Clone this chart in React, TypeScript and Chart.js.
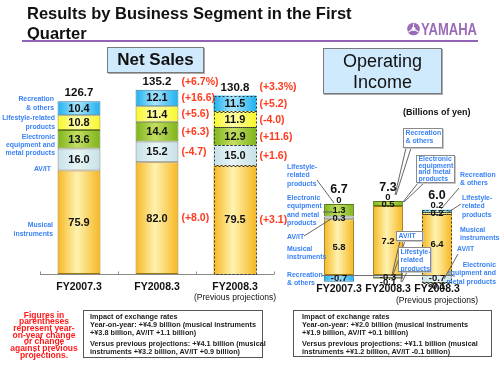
import React, { useEffect, useRef } from 'react';
import { Chart, registerables } from 'chart.js';

Chart.register(...registerables);

const FONT = "'Liberation Sans', Arial, Helvetica, sans-serif";

// ---------- data ----------
const categories = ['FY2007.3', 'FY2008.3', 'FY2008.3'];
const subLabels = ['', '', '(Previous projections)'];
const segmentNames = [
  'Musical instruments',
  'AV/IT',
  'Electronic equipment and metal products',
  'Lifestyle-related products',
  'Recreation & others',
];

// Net sales (billions of yen)
const nsMusical = [75.9, 82.0, 79.5];
const nsAvIt = [16.0, 15.2, 15.0];
const nsElectronic = [13.6, 14.4, 12.9];
const nsLifestyle = [10.8, 11.4, 11.9];
const nsRecreation = [10.4, 12.1, 11.5];
const nsTotals = [126.7, 135.2, 130.8];
const nsTotalChange = ['', '(+6.7%)', '(+3.3%)'];
const nsChangeMusical = ['', '(+8.0)', '(+3.1)'];
const nsChangeAvIt = ['', '(-4.7)', '(+1.6)'];
const nsChangeElectronic = ['', '(+6.3)', '(+11.6)'];
const nsChangeLifestyle = ['', '(+5.6)', '(-4.0)'];
const nsChangeRecreation = ['', '(+16.6)', '(+5.2)'];

// Operating income (billions of yen)
const oiMusical = [5.8, 7.2, 6.4];
const oiAvIt = [0.3, -0.3, -0.7];
const oiElectronic = [1.3, 0.5, -0.1];
const oiLifestyle = [0, -0.1, 0.2];
const oiRecreation = [-0.7, 0, 0.2];
const oiTotals = [6.7, 7.3, 6.0];

const PROJ = 2; // index of the "previous projections" column

// ---------- styles ----------
const SEG_STYLE = [
  { edge: '#f6b721', mid: '#fff2b0', border: '#9a7812' },
  { edge: '#c6e1e7', mid: '#e8f5f7', border: '#7a7a7a' },
  { edge: '#7db41a', mid: '#c4de62', border: '#5a7a1a' },
  { edge: '#f7f728', mid: '#ffffaa', border: '#8a8a30' },
  { edge: '#1cb0ef', mid: '#a8e4ff', border: '#3a7aa0' },
];
const BLUE = '#3a82f6';
const RED = '#ff3b1f';

function gradientFill(edge: string, mid: string, catPct: number) {
  return (c: any) => {
    const chart = c.chart;
    const xs = chart.scales && chart.scales.x;
    if (c.type !== 'data' || !xs || !chart.chartArea) return edge;
    const n = chart.data.labels.length;
    const cw = (xs.right - xs.left) / n;
    const w = cw * catPct;
    const cx = xs.getPixelForValue(c.dataIndex);
    if (!isFinite(cx)) return edge;
    const g = chart.ctx.createLinearGradient(cx - w / 2, 0, cx + w / 2, 0);
    g.addColorStop(0, edge);
    g.addColorStop(0.45, mid);
    g.addColorStop(1, edge);
    return g;
  };
}

function buildDatasets(series: number[][], catPct: number) {
  return series.map((data, k) => ({
    label: segmentNames[k],
    data,
    backgroundColor: gradientFill(SEG_STYLE[k].edge, SEG_STYLE[k].mid, catPct),
    borderColor: SEG_STYLE[k].border,
    borderWidth: (c: any) => (c.dataIndex === PROJ ? 0 : 1),
    borderSkipped: false as const,
    categoryPercentage: catPct,
    barPercentage: 1,
    inflateAmount: 0,
  }));
}

function geo(chart: any, di: number, i: number) {
  const e: any = chart.getDatasetMeta(di).data[i];
  return e.getProps(['x', 'y', 'base', 'width'], true);
}

function drawDotted(chart: any) {
  const ctx = chart.ctx;
  ctx.save();
  ctx.strokeStyle = '#333';
  ctx.lineWidth = 1;
  ctx.setLineDash([2, 2]);
  chart.data.datasets.forEach((d: any, di: number) => {
    const g = geo(chart, di, PROJ);
    const h = Math.abs(g.base - g.y);
    if (h < 0.5) return;
    const x = Math.round(g.x - g.width / 2) + 0.5;
    const y = Math.round(Math.min(g.y, g.base)) + 0.5;
    ctx.strokeRect(x, y, Math.round(g.width) - 1, Math.round(h));
  });
  ctx.restore();
}

function drawCategoryLabels(chart: any, dy: number, subDy: number, font: number, subFont: number) {
  const ctx = chart.ctx;
  const y0 = chart.scales.y.getPixelForValue(0);
  ctx.save();
  ctx.fillStyle = '#111';
  ctx.textAlign = 'center';
  ctx.textBaseline = 'middle';
  categories.forEach((lab, i) => {
    const x = chart.scales.x.getPixelForValue(i);
    ctx.font = `bold ${font}px ${FONT}`;
    ctx.fillText(lab, x, y0 + dy);
    if (subLabels[i]) {
      ctx.font = `${subFont}px ${FONT}`;
      ctx.fillText(subLabels[i], x, y0 + subDy);
    }
  });
  ctx.restore();
}

const nsChanges = [nsChangeMusical, nsChangeAvIt, nsChangeElectronic, nsChangeLifestyle, nsChangeRecreation];

const nsPlugin = {
  id: 'nsDecor',
  beforeDatasetsDraw(chart: any) {
    const { ctx, chartArea: ca } = chart;
    const y0 = Math.round(chart.scales.y.getPixelForValue(0)) + 0.5;
    ctx.save();
    ctx.strokeStyle = '#8a8a8a';
    ctx.lineWidth = 1;
    ctx.beginPath();
    ctx.moveTo(ca.left, y0);
    ctx.lineTo(ca.right, y0);
    const n = chart.data.labels.length;
    const cw = (ca.right - ca.left) / n;
    for (let i = 0; i <= n; i++) {
      const tx = Math.round(ca.left + i * cw) + 0.5;
      ctx.moveTo(tx, y0 - 3);
      ctx.lineTo(tx, y0);
    }
    ctx.stroke();
    ctx.restore();
  },
  afterDatasetsDraw(chart: any) {
    drawDotted(chart);
    const ctx = chart.ctx;
    const ds = chart.data.datasets;
    ctx.save();
    ctx.textBaseline = 'middle';
    // segment values
    ctx.fillStyle = '#111';
    ctx.textAlign = 'center';
    ctx.font = `bold 11px ${FONT}`;
    ds.forEach((d: any, di: number) => {
      (d.data as number[]).forEach((v, i) => {
        const g = geo(chart, di, i);
        ctx.fillText(v.toFixed(1), g.x, (g.y + g.base) / 2 + 0.5);
      });
    });
    // totals
    ctx.font = `bold 11.5px ${FONT}`;
    const tops: number[] = [];
    categories.forEach((_, i) => {
      let top = Infinity;
      ds.forEach((d: any, di: number) => { top = Math.min(top, geo(chart, di, i).y); });
      tops.push(top);
      ctx.fillText(nsTotals[i].toFixed(1), chart.scales.x.getPixelForValue(i), top - 8);
    });
    // changes
    ctx.fillStyle = RED;
    ctx.textAlign = 'left';
    ctx.font = `bold 10.5px ${FONT}`;
    categories.forEach((_, i) => {
      ds.forEach((d: any, di: number) => {
        const txt = nsChanges[di][i];
        if (!txt) return;
        const g = geo(chart, di, i);
        ctx.fillText(txt, g.x + g.width / 2 + 3, (g.y + g.base) / 2 + 0.5);
      });
      if (nsTotalChange[i]) {
        const g = geo(chart, 0, i);
        ctx.fillText(nsTotalChange[i], g.x + g.width / 2 + 3, tops[i] - 8);
      }
    });
    ctx.restore();
    drawCategoryLabels(chart, 13, 23.5, 10.5, 8.5);
  },
};

const oiPlugin = {
  id: 'oiDecor',
  afterDatasetsDraw(chart: any) {
    drawDotted(chart);
    const ctx = chart.ctx;
    const ds = chart.data.datasets;
    const y0 = Math.round(chart.scales.y.getPixelForValue(0)) + 0.5;
    // zero line (also leader for "Recreation & others")
    ctx.save();
    ctx.strokeStyle = '#707070';
    ctx.lineWidth = 1;
    ctx.beginPath();
    ctx.moveTo(322, y0);
    ctx.lineTo(chart.chartArea.right - 8, y0);
    ctx.stroke();
    ctx.textBaseline = 'middle';
    ctx.textAlign = 'center';
    ctx.fillStyle = '#111';
    ctx.font = `bold 9.5px ${FONT}`;
    categories.forEach((_, i) => {
      // topmost non-negative segment
      let topDi = -1;
      let topY = Infinity;
      let lowDi = -1;
      let lowY = -Infinity;
      ds.forEach((d: any, di: number) => {
        const v = d.data[i];
        const g = geo(chart, di, i);
        if (v >= 0 && g.y <= topY) { topY = g.y; topDi = di; }
        if (v < 0 && g.y >= lowY) { lowY = g.y; lowDi = di; }
      });
      let labelTop = topY;
      ds.forEach((d: any, di: number) => {
        const v = d.data[i];
        const g = geo(chart, di, i);
        let y = (g.y + g.base) / 2 + 0.5;
        if (di === topDi && Math.abs(v) <= 0.25) { y = g.y - 4; labelTop = y; }
        if (di === lowDi && Math.abs(v) <= 0.15) y = g.y + 4;
        ctx.fillText(v === 0 ? '0' : v.toFixed(1), g.x, y);
      });
      ctx.font = `bold 12.5px ${FONT}`;
      ctx.fillText(oiTotals[i].toFixed(1), chart.scales.x.getPixelForValue(i), labelTop - 10);
      ctx.font = `bold 9.5px ${FONT}`;
    });
    ctx.restore();
    drawCategoryLabels(chart, 14, 26, 10.5, 8.5);
  },
};

function nsConfig(): any {
  const catPct = 0.55;
  return {
    type: 'bar',
    data: {
      labels: categories,
      datasets: buildDatasets([nsMusical, nsAvIt, nsElectronic, nsLifestyle, nsRecreation], catPct),
    },
    options: {
      animation: false,
      responsive: false,
      events: [],
      layout: { padding: { left: 40, right: 226, top: 83, bottom: 101 } },
      plugins: { legend: { display: false }, tooltip: { enabled: false } },
      scales: {
        x: { display: false, stacked: true },
        y: { display: false, stacked: true, min: 0, max: 140 },
      },
    },
    plugins: [nsPlugin],
  };
}

function oiConfig(): any {
  const catPct = 0.61;
  return {
    type: 'bar',
    data: {
      labels: categories,
      datasets: buildDatasets([oiMusical, oiAvIt, oiElectronic, oiLifestyle, oiRecreation], catPct),
    },
    options: {
      animation: false,
      responsive: false,
      events: [],
      layout: { padding: { left: 314.5, right: 38.5, top: 193.4, bottom: 85.6 } },
      plugins: { legend: { display: false }, tooltip: { enabled: false } },
      scales: {
        x: { display: false, stacked: true },
        y: { display: false, stacked: true, min: -1.5, max: 8.5 },
      },
    },
    plugins: [oiPlugin],
  };
}

// ---------- annotation helpers ----------
const leaderLines: number[][] = [
  [317, 180, 334, 203],
  [323, 212, 333, 212],
  [304, 236, 331, 219],
  [406, 148, 395, 195], [411, 148, 396, 195],
  [418, 183, 403, 202], [424, 183, 404, 202],
  [400, 241, 392, 275], [405, 241, 393, 275],
  [402, 272, 401, 282], [407, 272, 402, 282],
  [459, 188, 441, 209],
  [461, 204, 447, 213],
  [458, 254, 444, 279],
];

function Lines(props: { lines: string[] }) {
  return (
    <>
      {props.lines.map((l, i) => (
        <React.Fragment key={i}>
          {i > 0 && <br />}
          {l}
        </React.Fragment>
      ))}
    </>
  );
}

function Label(props: {
  left?: number; right?: number; top: number; lines: string[]; lh?: number; size?: number;
  color?: string; align?: 'left' | 'right' | 'center'; width?: number; box?: boolean; height?: number; bold?: boolean;
}) {
  const st: React.CSSProperties = {
    position: 'absolute',
    top: props.top,
    fontSize: props.size ?? 6.9,
    lineHeight: `${props.lh ?? 8.5}px`,
    fontWeight: props.bold === false ? 'normal' : 'bold',
    color: props.color ?? BLUE,
    textAlign: props.align ?? 'left',
    whiteSpace: 'nowrap',
    fontFamily: FONT,
  };
  if (props.left !== undefined) st.left = props.left;
  if (props.width !== undefined) st.width = props.width;
  if (props.height !== undefined) st.height = props.height;
  if (props.box) {
    st.background = '#fff';
    st.border = '1px solid #8a8a8a';
    st.boxSizing = 'border-box';
    st.paddingLeft = 1.5;
    st.boxShadow = '1px 1px 0 #c8c8c8';
  }
  return <div style={st}><Lines lines={props.lines} /></div>;
}

export default function App() {
  const nsRef = useRef<HTMLCanvasElement>(null);
  const oiRef = useRef<HTMLCanvasElement>(null);

  useEffect(() => {
    const c1 = new Chart(nsRef.current as HTMLCanvasElement, nsConfig());
    const c2 = new Chart(oiRef.current as HTMLCanvasElement, oiConfig());
    return () => {
      c1.destroy();
      c2.destroy();
    };
  }, []);

  const canvasStyle: React.CSSProperties = { position: 'absolute', left: 0, top: 0, width: 500, height: 375 };

  return (
    <div style={{ position: 'absolute', left: 0, top: 0, width: 500, height: 375, overflow: 'hidden', background: '#fff', fontFamily: FONT }}>
      <canvas ref={nsRef} width={500} height={375} style={canvasStyle} />
      <canvas ref={oiRef} width={500} height={375} style={canvasStyle} />

      {/* title */}
      <div style={{ position: 'absolute', left: 27, top: 3, fontSize: 16.5, lineHeight: '20px', fontWeight: 'bold', color: '#111' }}>
        Results by Business Segment in the First<br />Quarter
      </div>
      <div style={{ position: 'absolute', left: 22, top: 40, width: 456, height: 2, background: '#9262b4' }} />
      <svg style={{ position: 'absolute', left: 404, top: 20 }} width={76} height={18}>
        <circle cx={9.5} cy={9} r={6.3} fill="#9a6cb8" />
        <g stroke="#fff" strokeWidth={1.1}>
          <line x1={9.5} y1={9} x2={9.5} y2={3.5} />
          <line x1={9.5} y1={9} x2={14.3} y2={11.8} />
          <line x1={9.5} y1={9} x2={4.7} y2={11.8} />
        </g>
        <circle cx={9.5} cy={9} r={2} fill="#fff" />
        <text x={17} y={15} fontFamily={FONT} fontWeight="bold" fontSize={16.5} fill="#9a6cb8" textLength={56} lengthAdjust="spacingAndGlyphs">YAMAHA</text>
      </svg>

      {/* section boxes */}
      <div style={{ position: 'absolute', left: 107, top: 47, width: 97, height: 26, boxSizing: 'border-box', border: '1px solid #7a7a7a', background: '#cfeafc', boxShadow: '1px 1px 0 #aaa', fontSize: 17, fontWeight: 'bold', lineHeight: '24px', textAlign: 'center', color: '#111' }}>
        Net Sales
      </div>
      <div style={{ position: 'absolute', left: 323, top: 48, width: 119, height: 46, boxSizing: 'border-box', border: '1px solid #7a7a7a', background: '#cfeafc', boxShadow: '1px 1px 0 #aaa', fontSize: 18, lineHeight: '21px', paddingTop: 2, textAlign: 'center', color: '#111' }}>
        Operating<br />Income
      </div>
      <div style={{ position: 'absolute', left: 403, top: 107, fontSize: 9, fontWeight: 'bold', color: '#111' }}>(Billions of yen)</div>

      {/* net sales segment names */}
      <Label left={0} width={54} align="right" top={93.5} lh={9} lines={['Recreation', '& others']} />
      <Label left={0} width={55} align="right" top={112.5} lh={9} lines={['Lifestyle-related', 'products']} />
      <Label left={0} width={55} align="right" top={133} lh={8} lines={['Electronic', 'equipment and', 'metal products']} />
      <Label left={0} width={51} align="right" top={163.5} lh={9} lines={['AV/IT']} />
      <Label left={0} width={53} align="right" top={219.5} lh={9} lines={['Musical', 'instruments']} />

      {/* operating income leader lines */}
      <svg style={{ position: 'absolute', left: 0, top: 0 }} width={500} height={375}>
        {leaderLines.map((l, i) => (
          <line key={i} x1={l[0]} y1={l[1]} x2={l[2]} y2={l[3]} stroke="#555" strokeWidth={0.9} />
        ))}
      </svg>

      {/* operating income labels: FY2007.3 */}
      <Label left={287} top={162.5} lh={8.5} lines={['Lifestyle-', 'related', 'products']} />
      <Label left={287} top={193.5} lh={8.6} lines={['Electronic', 'equipment', 'and metal', 'products']} />
      <Label left={287} top={232.5} lines={['AV/IT']} />
      <Label left={287} top={244.5} lh={8.3} lines={['Musical', 'instruments']} />
      <Label left={287} top={270.5} lh={8.3} lines={['Recreation', '& others']} />

      {/* FY2008.3 callouts */}
      <Label left={403} top={128} width={40} height={20} box lh={8} lines={['Recreation', '& others']} />
      <Label left={416} top={155} width={39} height={28} box lh={6.7} lines={['Electronic', 'equipment', 'and metal', 'products']} />
      <Label left={396} top={231} width={27} height={10} box lh={8} lines={['AV/IT']} />
      <Label left={398} top={247} width={33} height={25} box lh={8.3} lines={['Lifestyle-', 'related', 'products']} />

      {/* previous projections labels */}
      <Label left={460} top={170.5} lh={8.3} lines={['Recreation', '& others']} />
      <Label left={462} top={193.5} lh={8.5} lines={['Lifestyle-', 'related', 'products']} />
      <Label left={460} top={225.5} lh={8.3} lines={['Musical', 'instruments']} />
      <Label left={457} top={244.5} lines={['AV/IT']} />
      <Label left={430} width={66} align="right" top={260.5} lh={8.5} lines={['Electronic', 'equipment and', 'metal products']} />

      {/* notes */}
      <div style={{ position: 'absolute', left: 0, top: 311.5, width: 88, textAlign: 'center', color: '#ff1a1a', fontWeight: 'bold', fontSize: 8.5, lineHeight: '6.7px' }}>
        Figures in<br />parentheses<br />represent year-<br />on-year change<br />or change<br />against previous<br />projections.
      </div>
      <div style={{ position: 'absolute', left: 83, top: 310, width: 180, height: 48, boxSizing: 'border-box', border: '1px solid #555', padding: '2px 0 0 6px', fontSize: 7.3, fontWeight: 'bold', lineHeight: '8px', color: '#222', whiteSpace: 'nowrap' }}>
        Impact of exchange rates<br />Year-on-year: +¥4.9 billion (musical instruments<br />+¥3.8 billion, AV/IT +1.1 billion)
        <div style={{ marginTop: 3 }}>Versus previous projections: +¥4.1 billion (musical<br />instruments +¥3.2 billion, AV/IT +0.9 billion)</div>
      </div>
      <div style={{ position: 'absolute', left: 293, top: 310, width: 199, height: 47, boxSizing: 'border-box', border: '1px solid #555', padding: '2px 0 0 8px', fontSize: 7.3, fontWeight: 'bold', lineHeight: '8px', color: '#222', whiteSpace: 'nowrap' }}>
        Impact of exchange rates<br />Year-on-year: +¥2.0 billion (musical instruments<br />+¥1.9 billion, AV/IT +0.1 billion)
        <div style={{ marginTop: 3 }}>Versus previous projections: +¥1.1 billion (musical<br />instruments +¥1.2 billion, AV/IT -0.1 billion)</div>
      </div>
    </div>
  );
}
